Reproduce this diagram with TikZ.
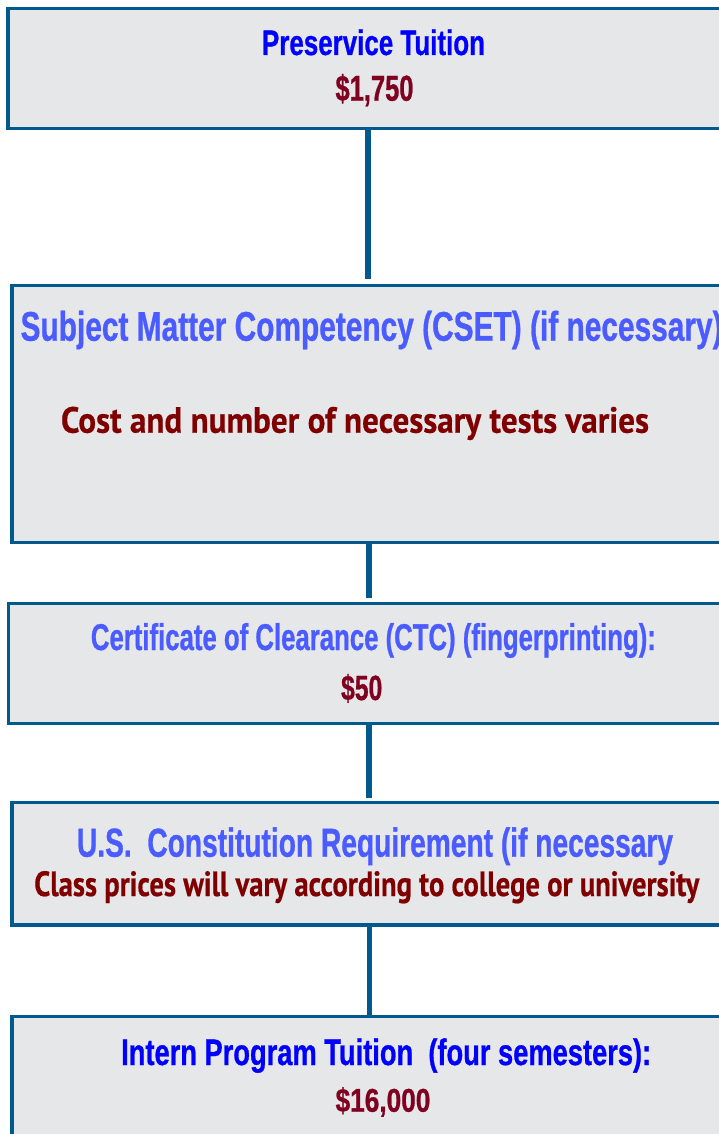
\documentclass[tikz,border=0pt]{standalone}
\usepackage{fontspec}
\usepackage{graphicx}
\newfontfamily\nar[BoldFeatures={FakeBold=0.9}]{Liberation Sans}
\newfontfamily\gil[BoldFeatures={FakeBold=0.5}]{PT Sans}
\definecolor{bord}{RGB}{0,90,142}
\definecolor{boxfill}{RGB}{230,231,233}
\definecolor{tblue}{RGB}{0,0,255}
\definecolor{lblue}{RGB}{74,92,255}
\definecolor{pred}{RGB}{128,0,32}
\definecolor{dred}{RGB}{128,0,0}
\newcommand{\fittxt}[3]{\resizebox{#1pt}{#2pt}{#3}}
\begin{document}
\begin{tikzpicture}[x=1pt,y=-1pt,
 box/.style={draw=bord, fill=boxfill, line width=3.5pt, rectangle, inner sep=0pt, outer sep=0pt, anchor=north west},
 conn/.style={draw=bord, line width=5.5pt},
 lab/.style={inner sep=0pt, anchor=base, font=\nar\bfseries\fontsize{30}{36}\selectfont},
 glab/.style={inner sep=0pt, anchor=base, font=\gil\bfseries\fontsize{30}{36}\selectfont}]
\useasboundingbox (0,0) rectangle (718,1134);
% boxes
\node[box, minimum width=719.6pt, minimum height=119.6pt] (b1) at (8.2,8.7) {};
\node[box, minimum width=714.2pt, minimum height=256.6pt] (b2) at (11.9,285.7) {};
\node[box, minimum width=721pt, minimum height=120pt] (b3) at (8.5,603.3) {};
\node[box, minimum width=715.2pt, minimum height=122.7pt] (b4) at (11.9,802.3) {};
\node[box, minimum width=740pt, minimum height=143pt] (b5) at (11.9,1016.7) {};
% connectors
\draw[conn, shorten >=6.4pt] (b1.south) -- (b1.south |- b2.north);
\draw[conn, shorten >=5pt] (b2.south) -- (b2.south |- b3.north);
\draw[conn, shorten >=4pt] (b3.south) -- (b3.south |- b4.north);
\draw[conn] (b4.south) -- (b4.south |- b5.north);
% texts
\node[lab, text=tblue] (t1) at (373.5,55) {\fittxt{223}{25.7}{Preservice Tuition}};
\node[lab, text=pred] (p1) at (374.5,100.7) {\fittxt{78}{26.7}{\$1,750}};
\node[lab, text=lblue] (t2) at (371.6,340.7) {\fittxt{702}{30}{Subject Matter Competency (CSET) (if necessary)}};
\node[glab, text=dred] (p2) at (355,432.7) {\fittxt{588}{26}{Cost and number of necessary tests varies}};
\node[lab, text=lblue] (t3) at (373.4,650) {\fittxt{565}{27}{Certificate of Clearance (CTC) (fingerprinting):}};
\node[lab, text=pred] (p3) at (361.7,700) {\fittxt{41.2}{26}{\$50}};
\node[lab, text=lblue] (t4) at (375,856.7) {\fittxt{596}{29.3}{U.S.\ \ Constitution Requirement (if necessary}};
\node[glab, text=dred] (p4) at (366.8,896) {\fittxt{665}{25}{Class prices will vary according to college or university}};
\node[lab, text=tblue] (t5) at (386.2,1065) {\fittxt{530}{26.7}{Intern Program Tuition\ \ (four semesters):}};
\node[lab, text=pred] (p5) at (383,1111.7) {\fittxt{94.8}{24.4}{\$16,000}};
\end{tikzpicture}
\end{document}
